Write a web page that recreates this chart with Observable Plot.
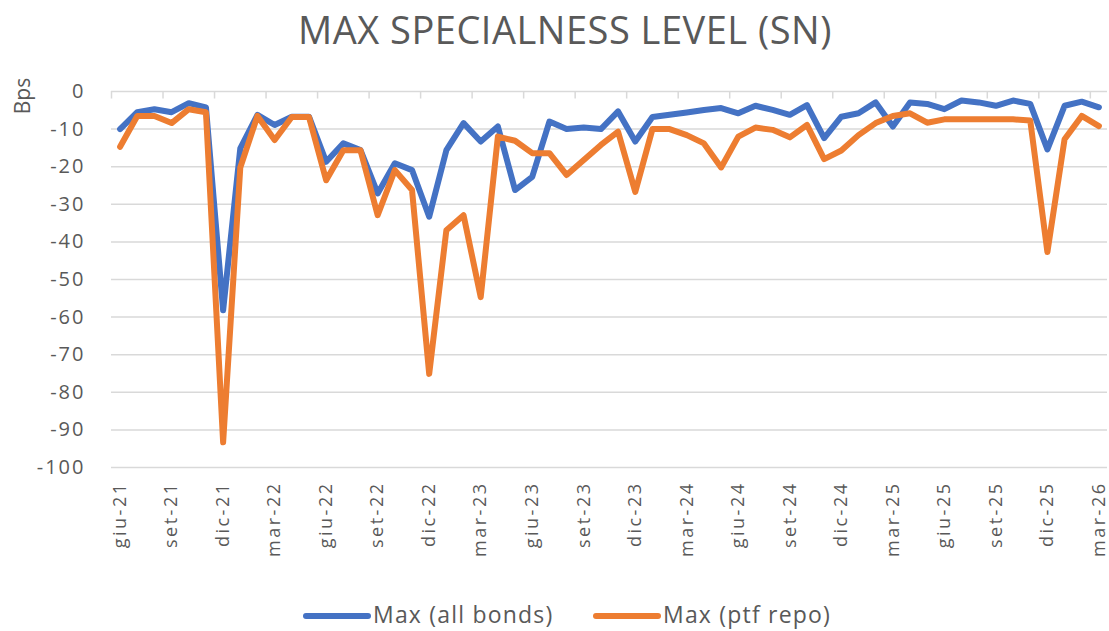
<!DOCTYPE html>
<html>
<head>
<meta charset="utf-8">
<script src="https://cdn.jsdelivr.net/npm/d3@7"></script>
<script src="https://cdn.jsdelivr.net/npm/@observablehq/plot@0.6"></script>
<style>
  body { margin: 0; background: #ffffff; font-family: "Open Sans", sans-serif; color: #595959; }
  #wrap { position: relative; width: 1109px; height: 631px; overflow: hidden; }
  #title { position: absolute; left: 0; top: 7px; width: 1130px; text-align: center; font-size: 38px; line-height: 44px; letter-spacing: 0.5px; }
  #chart { position: absolute; left: 0; top: 60px; }
  #bps { position: absolute; left: -8px; top: 84px; width: 60px; height: 24px; line-height: 24px; text-align: center; font-size: 21px; transform: rotate(-90deg); }
  .item { position: absolute; top: 600px; height: 28px; line-height: 28px; display: flex; align-items: center; font-size: 23px; letter-spacing: 1.2px; white-space: nowrap; }
  .sw { display: inline-block; width: 68px; height: 6px; border-radius: 3px; margin-right: 2px; margin-top: 3px; }
  #chart g[aria-label="x-axis tick label"] text { letter-spacing: 2.5px; }
  #chart g[aria-label="y-axis tick label"] text { letter-spacing: 2px; }
</style>
</head>
<body>
<div id="wrap">
  <div id="title">MAX SPECIALNESS LEVEL (SN)</div>
  <div id="bps">Bps</div>
  <div id="chart"></div>
</div>
<script>
const months = [
  "giu-21","lug-21","ago-21","set-21","ott-21","nov-21","dic-21",
  "gen-22","feb-22","mar-22","apr-22","mag-22","giu-22","lug-22","ago-22","set-22","ott-22","nov-22","dic-22",
  "gen-23","feb-23","mar-23","apr-23","mag-23","giu-23","lug-23","ago-23","set-23","ott-23","nov-23","dic-23",
  "gen-24","feb-24","mar-24","apr-24","mag-24","giu-24","lug-24","ago-24","set-24","ott-24","nov-24","dic-24",
  "gen-25","feb-25","mar-25","apr-25","mag-25","giu-25","lug-25","ago-25","set-25","ott-25","nov-25","dic-25",
  "gen-26","feb-26","mar-26"
];
const allBonds = [
  -10, -5.5, -4.7, -5.5, -3.1, -4.2, -58.2, -15.1, -6.2, -8.9,
  -6.7, -6.7, -18.7, -13.8, -15.6, -27.1, -19.1, -20.9, -33.3, -15.6,
  -8.4, -13.3, -9.3, -26.2, -22.7, -8, -10, -9.6, -10, -5.3,
  -13.3, -6.8, -6.2, -5.6, -4.9, -4.4, -5.8, -3.8, -4.9, -6.2,
  -3.6, -12.4, -6.7, -5.8, -2.9, -9.3, -2.9, -3.3, -4.7, -2.4,
  -2.9, -3.8, -2.4, -3.3, -15.4, -3.8, -2.7, -4.2
];
const ptfRepo = [
  -14.7, -6.5, -6.5, -8.4, -4.7, -5.5, -93.3, -20.2, -6.5, -12.9,
  -6.8, -6.8, -23.6, -15.6, -15.6, -32.9, -20.9, -26.2, -75.1, -36.9,
  -32.9, -54.7, -12, -13.1, -16.4, -16.4, -22.2, -18.2, -14.2, -10.7,
  -26.7, -10, -10, -11.6, -13.8, -20.2, -12, -9.6, -10.2, -12.2,
  -8.9, -18, -15.7, -11.6, -8.4, -6.5, -5.8, -8.3, -7.4, -7.4,
  -7.4, -7.4, -7.4, -7.7, -42.7, -12.7, -6.5, -9.2
];
const seriesNames = ["Max (all bonds)", "Max (ptf repo)"];
const seriesColors = ["#4472C4", "#ED7D31"];
const yTicks = [0, -10, -20, -30, -40, -50, -60, -70, -80, -90, -100];

const idx = months.map((m, i) => i);
const labelIdx = idx.filter(i => i % 3 === 0);
const boundaries = labelIdx.map(i => i - 0.5);

const rows = [];
allBonds.forEach((v, i) => rows.push({i, v, s: seriesNames[0]}));
ptfRepo.forEach((v, i) => rows.push({i, v, s: seriesNames[1]}));

const chart = Plot.plot({
  width: 1109,
  height: 530,
  marginLeft: 111,
  marginRight: 2,
  marginTop: 31,
  marginBottom: 123,
  style: {fontFamily: "'Open Sans', sans-serif", fontSize: "20px", color: "#595959", background: "transparent"},
  x: {domain: [-0.5, months.length - 0.5]},
  y: {domain: [-100, 0]},
  color: {domain: seriesNames, range: seriesColors},
  marks: [
    Plot.ruleY(yTicks, {stroke: "#d9d9d9", strokeWidth: 1.5}),
    Plot.ruleX(boundaries, {x: d => d, y1: 0, y2: -2, stroke: "#d9d9d9", strokeWidth: 1.5}),
    Plot.line(rows, {x: "i", y: "v", z: "s", stroke: "s", strokeWidth: 6, strokeLinejoin: "round", strokeLinecap: "round"}),
    Plot.axisY(yTicks, {tickSize: 0, tickPadding: 26, label: null, fontSize: 20, tickFormat: d => String(d)}),
    Plot.axisX(labelIdx, {anchor: "bottom", tickSize: 0, tickPadding: 14, tickRotate: -90, label: null, fontSize: 18, tickFormat: i => months[i]})
  ]
});
document.getElementById("chart").appendChild(chart);

const wrap = document.getElementById("wrap");
const legendLeft = [303, 593];
seriesNames.forEach((name, k) => {
  const item = document.createElement("div");
  item.className = "item";
  item.style.left = legendLeft[k] + "px";
  const sw = document.createElement("span");
  sw.className = "sw";
  sw.style.background = seriesColors[k];
  const t = document.createElement("span");
  t.textContent = name;
  item.appendChild(sw);
  item.appendChild(t);
  wrap.appendChild(item);
});
</script>
</body>
</html>
